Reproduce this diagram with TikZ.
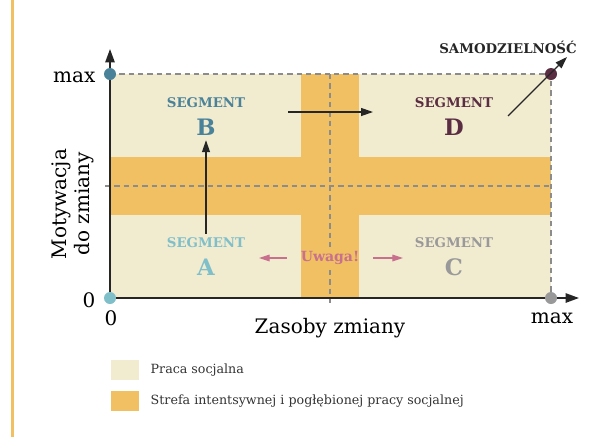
\documentclass[tikz,border=0pt]{standalone}
\usepackage{fontspec}
\setmainfont{DejaVu Serif}
\usetikzlibrary{arrows.meta}
\definecolor{cream}{HTML}{F1EBD0}
\definecolor{zone}{HTML}{F0C062}
\definecolor{segA}{HTML}{7FBFCA}
\definecolor{segB}{HTML}{4A8399}
\definecolor{segC}{HTML}{999999}
\definecolor{segD}{HTML}{5A2D42}
\definecolor{warn}{HTML}{C8708E}
\definecolor{gridgray}{HTML}{8C8C8C}
\newcommand\segname[1]{SEGMENT\\{\fontsize{17}{21}\selectfont #1}}

\begin{document}
\begin{tikzpicture}
[x=0.75pt, y=-0.75pt,
    axis/.style={draw=black!85, line width=1.2pt, -{Triangle[length=10pt,width=7pt]}},
    flow/.style={draw=black!85, line width=0.9pt, -{Triangle[length=9pt,width=6pt]}},
    warn arrow/.style={draw=warn, line width=0.9pt, -{Triangle[length=8pt,width=5pt]}},
    guide/.style={draw=gridgray, line width=0.9pt, dash pattern=on 4pt off 3pt},
    dot/.style={circle, inner sep=0pt, minimum size=9pt},
    seg/.style={align=center, inner sep=1pt, font=\fontsize{10}{21}\selectfont\bfseries},
    axis label/.style={font=\fontsize{15}{17}\selectfont},
    legend box/.style={minimum width=21pt, minimum height=15pt, inner sep=0pt},
    legend text/.style={anchor=west, font=\fontsize{9.5}{11}\selectfont, text=black!80}]
\useasboundingbox (0,0) rectangle (606,437);
\fill[zone] (11,0) rectangle (14,437);

\fill[cream] (110,74) rectangle (551,298);
\fill[zone] (110,157) rectangle (551,215);
\fill[zone] (301,74) rectangle (359,298);

\draw[guide] (110,74) -- (551,74) -- (551,298);
\draw[guide] (105,186) -- (551,186);
\draw[guide] (330,74) -- (330,303);

\coordinate (origin) at (110,298);
\coordinate (ytip) at (110,49);
\coordinate (xtip) at (579,298);
\draw[axis] (origin) -- (ytip);
\draw[axis] (origin) -- (xtip);

\node[dot, fill=segB] (ymaxdot) at (110,74) {};
\node[dot, fill=segA] (zerodot) at (110,298) {};
\node[dot, fill=segC] (xmaxdot) at (551,298) {};
\node[dot, fill=segD] (topdot) at (551,74) {};

\node[axis label, anchor=base east] (ymax) at (100,82) {max};
\node[axis label, anchor=base east] (yzero) at (100,307) {0};
\node[axis label, anchor=base] (xzero) at (111,325) {0};
\node[axis label, anchor=base] (xmax) at (552,323) {max};
\node[axis label, anchor=base] (xtitle) at (330,333) {Zasoby zmiany};
\node[axis label, rotate=90, align=center] (ytitle) at (73,204) {Motywacja\\do zmiany};

\node[seg, text=segB] (segmentB) at (206,117) {\segname{B}};
\node[seg, text=segD] (segmentD) at (454,117) {\segname{D}};
\node[seg, text=segA] (segmentA) at (206,257) {\segname{A}};
\node[seg, text=segC] (segmentC) at (454,257) {\segname{C}};

\node[font=\fontsize{10.5}{12}\selectfont\bfseries, text=warn, fill=zone, inner xsep=0pt, inner ysep=3pt] (uwaga) at (330,258) {Uwaga!};
\node[font=\fontsize{10}{12}\selectfont\bfseries, text=black!85] (samo) at (508,47) {SAMODZIELNOŚĆ};

\coordinate (bdstart) at (288,112);
\coordinate (bdend) at (373,112);
\coordinate (dstart) at (508,116);
\coordinate (dend) at (567,57);
\coordinate (warnleft) at (259,258);
\coordinate (warnright) at (403,258);

\draw[flow, shorten <=2pt, shorten >=2pt] (segmentA) -- (segmentB);
\draw[flow] (bdstart) -- (bdend);
\draw[flow] (dstart) -- (dend);
\draw[warn arrow, shorten <=10pt] (uwaga.west) -- (warnleft);
\draw[warn arrow, shorten <=10pt] (uwaga.east) -- (warnright);

\node[legend box, fill=cream] (lgcream) at (125,370) {};
\node[legend box, fill=zone] (lgzone) at (125,401) {};
\node[legend text] (lgcreamtext) at (146,370) {Praca socjalna};
\node[legend text] (lgzonetext) at (146,401) {Strefa intentsywnej i pogłębionej pracy socjalnej};
\end{tikzpicture}
\end{document}
